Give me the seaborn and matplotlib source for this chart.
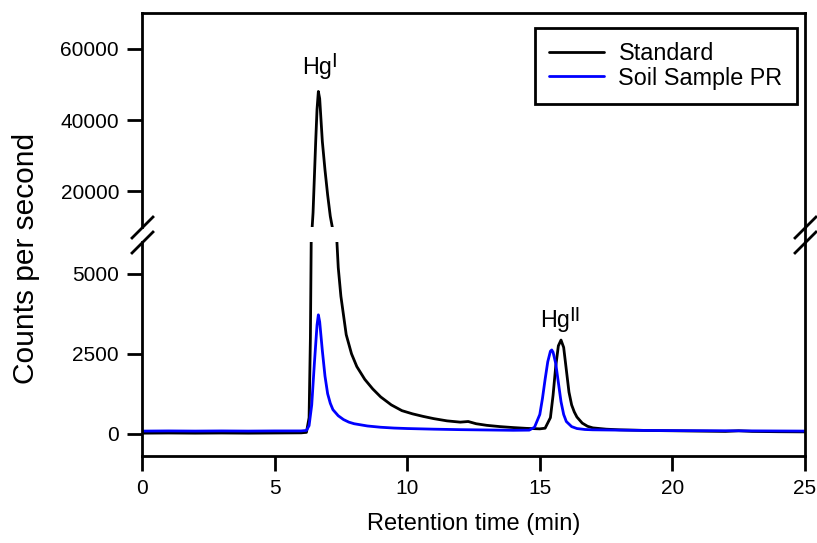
import numpy as np
import pandas as pd
import matplotlib
matplotlib.use("Agg")
import matplotlib.pyplot as plt
from matplotlib.lines import Line2D
import seaborn as sns

# values
std_time = [0, 1, 2, 3, 4, 5, 6, 6.2, 6.3, 6.35, 6.4, 6.45, 6.5, 6.55, 6.6, 6.65,
            6.7, 6.75, 6.8, 6.9, 7.0, 7.1, 7.2, 7.3, 7.4, 7.5, 7.7, 7.9, 8.1, 8.4,
            8.7, 9.0, 9.4, 9.8, 10.2, 10.6, 11.0, 11.5, 12.0, 12.3, 12.6, 13.0,
            13.5, 14.0, 14.5, 15.0, 15.2, 15.4, 15.5, 15.6, 15.7, 15.8, 15.9, 16.0,
            16.1, 16.2, 16.3, 16.4, 16.6, 16.8, 17.0, 17.5, 18, 19, 20, 21, 22,
            22.5, 23, 24, 25]
std_counts = [15, 20, 15, 20, 15, 20, 25, 40, 500, 3000, 8000, 14000, 24000, 34000,
              43000, 48000, 46000, 40000, 34000, 26000, 19000, 13000, 9000, 6800,
              5200, 4300, 3100, 2500, 2100, 1700, 1400, 1150, 900, 720, 620, 540,
              470, 400, 360, 380, 310, 260, 220, 190, 165, 150, 170, 500, 1200, 2100,
              2750, 2930, 2700, 2000, 1300, 900, 680, 520, 330, 230, 180, 140, 120,
              100, 90, 80, 70, 90, 70, 60, 55]

soil_time = [0, 1, 2, 3, 4, 5, 6, 6.2, 6.3, 6.4, 6.5, 6.6, 6.65, 6.7, 6.8, 6.9,
             7.0, 7.1, 7.2, 7.4, 7.6, 7.8, 8.0, 8.5, 9.0, 9.5, 10, 11, 12, 13, 14,
             14.6, 14.8, 15.0, 15.1, 15.2, 15.3, 15.4, 15.45, 15.5, 15.6, 15.7,
             15.8, 15.9, 16.0, 16.2, 16.4, 16.7, 17, 18, 19, 20, 22, 25]
soil_counts = [80, 85, 80, 85, 80, 85, 85, 100, 250, 900, 2200, 3400, 3720, 3500,
               2600, 1800, 1250, 950, 750, 560, 440, 360, 310, 240, 200, 175, 160,
               140, 125, 115, 105, 110, 200, 600, 1100, 1700, 2250, 2580, 2620,
               2550, 2200, 1600, 1000, 600, 380, 220, 160, 130, 120, 110, 100, 95,
               90, 80]

series_names = ["Standard", "Soil Sample PR"]
series_colors = ["black", "blue"]
x_ticks = [0, 5, 10, 15, 20, 25]
top_ticks = [20000, 40000, 60000]
bottom_ticks = [0, 2500, 5000]

df = pd.concat([
    pd.DataFrame({"time": std_time, "counts": std_counts, "series": series_names[0]}),
    pd.DataFrame({"time": soil_time, "counts": soil_counts, "series": series_names[1]}),
], ignore_index=True)

sns.set_style("ticks")
plt.rcParams["font.family"] = ["Liberation Sans", "DejaVu Sans"]
plt.rcParams["text.color"] = "black"
plt.rcParams["axes.labelcolor"] = "black"
plt.rcParams["xtick.color"] = "black"
plt.rcParams["ytick.color"] = "black"

W, H = 817, 543
fig = plt.figure(figsize=(W / 100, H / 100), dpi=100)
ax_top = fig.add_axes([142 / W, 1 - 227 / H, 663 / W, 214 / H])
ax_bot = fig.add_axes([142 / W, 1 - 456 / H, 663 / W, 214 / H])

palette = dict(zip(series_names, series_colors))
for ax in (ax_top, ax_bot):
    sns.lineplot(data=df, x="time", y="counts", hue="series", palette=palette,
                 estimator=None, sort=False, linewidth=2.0, ax=ax,
                 legend=(ax is ax_top))
    ax.set_xlim(0, 25)
    ax.set_xticks(x_ticks)
    ax.set_xlabel("")
    ax.set_ylabel("")
    for sp in ax.spines.values():
        sp.set_linewidth(2.0)
        sp.set_color("black")
        sp.set_visible(True)
    ax.tick_params(direction="out", length=10.5, width=2.0, labelsize=15, pad=6,
                   colors="black", right=False, top=False)

ax_top.set_ylim(10000, 70000)
ax_top.set_yticks(top_ticks)
ax_top.spines["bottom"].set_visible(False)
ax_top.tick_params(axis="x", bottom=False, labelbottom=False)

ax_bot.set_ylim(-700, 6000)
ax_bot.set_yticks(bottom_ticks)
ax_bot.spines["top"].set_visible(False)
ax_bot.set_xlabel("Retention time (min)", fontsize=17, labelpad=11)

fig.text(26 / W, 1 - 258 / H, "Counts per second", rotation=90,
         ha="center", va="center", fontsize=21.5)

# peak labels: "Hg" plus a raised roman numeral
for ax, x, y, num in [(ax_top, 6.05, 52900, "I"), (ax_bot, 15.03, 3330, "II")]:
    hg = ax.text(x, y, "Hg", ha="left", va="baseline", fontsize=16.8)
    ax.annotate(num, xy=(1, 1), xycoords=hg, xytext=(-0.8, 2.7),
                textcoords="offset points", ha="left", va="top", fontsize=14.5)

# legend
sns.move_legend(ax_top, "upper right", bbox_to_anchor=(797 / W, 1 - 28 / H),
                bbox_transform=fig.transFigure, title=None, frameon=True,
                fancybox=False, fontsize=16.8, borderaxespad=0, borderpad=0.62,
                labelspacing=0.05, handlelength=2.36, handletextpad=0.6)
leg = ax_top.get_legend()
leg.get_frame().set_edgecolor("black")
leg.get_frame().set_linewidth(2.0)
leg.get_frame().set_alpha(1)
for ln in leg.get_lines():
    ln.set_linewidth(2.0)

# axis break marks
kw = dict(marker=[(-1, -1), (1, 1)], markersize=16.5, linestyle="none",
          color="k", mec="k", mew=2.0, clip_on=False)
ax_top.plot([0, 1], [0, 0], transform=ax_top.transAxes, **kw)
ax_bot.plot([0, 1], [1, 1], transform=ax_bot.transAxes, **kw)
fig.add_artist(Line2D([805 / W, 805 / W], [1 - 242 / H, 1 - 227 / H],
                      transform=fig.transFigure, color="black", lw=2.0))

fig.savefig("out.png", dpi=100)
